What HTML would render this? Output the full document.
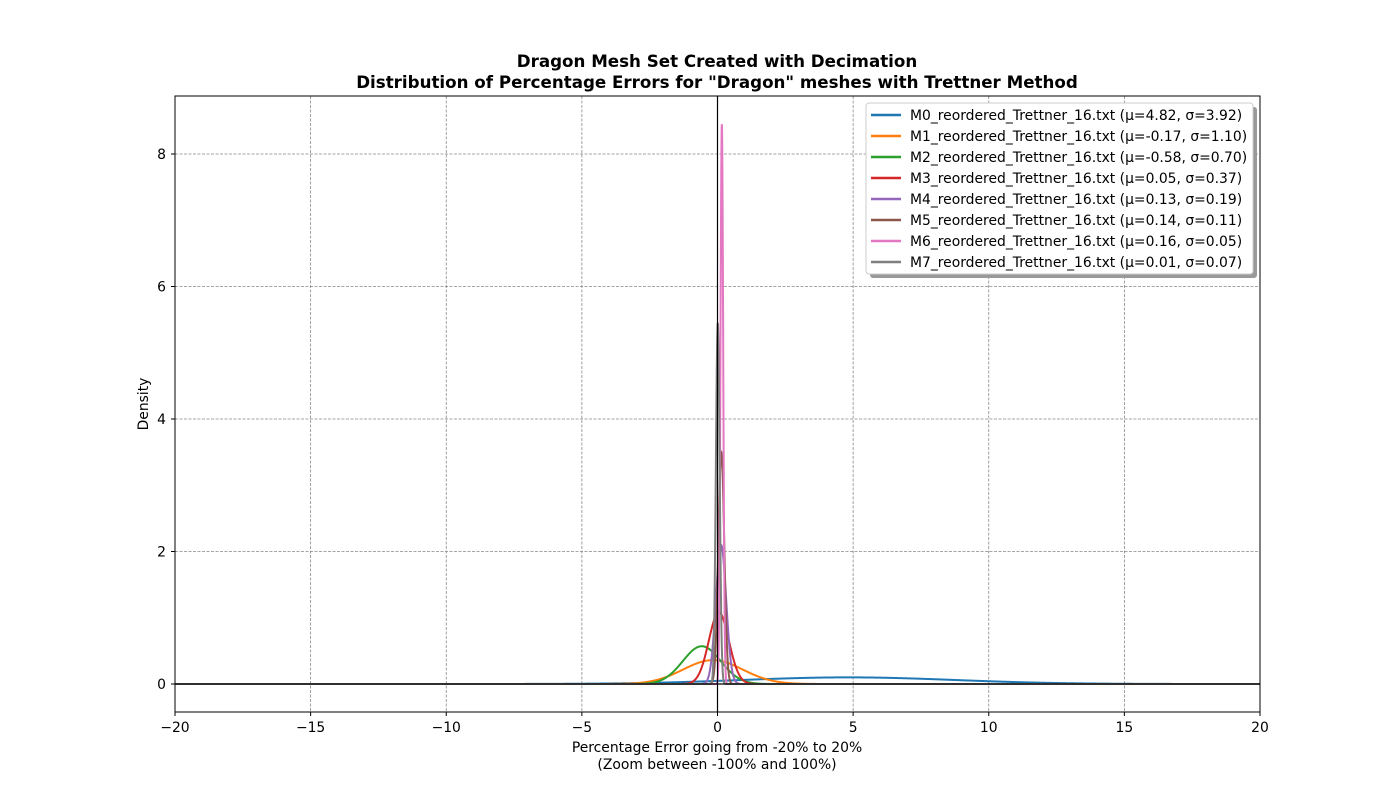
<!DOCTYPE html>
<html><head><meta charset="utf-8"><style>
body{margin:0;background:#fff;}
svg text{font-family:"DejaVu Sans","Liberation Sans",sans-serif;}
</style></head><body>
<svg id="chart" width="1400" height="800" xmlns="http://www.w3.org/2000/svg">
<rect width="1400" height="800" fill="#fff"/>
<text x="717" y="67" text-anchor="middle" font-size="16.7" font-weight="bold">Dragon Mesh Set Created with Decimation</text>
<text x="717" y="88" text-anchor="middle" font-size="16.7" font-weight="bold">Distribution of Percentage Errors for "Dragon" meshes with Trettner Method</text>
<g id="grid"></g>
<g id="ticks"></g>
<g id="series"></g>
<rect x="175" y="96" width="1085" height="616" fill="none" stroke="#000" stroke-width="1"/>
<text x="717" y="752" text-anchor="middle" font-size="13.9">Percentage Error going from -20% to 20%</text>
<text x="717" y="769" text-anchor="middle" font-size="13.9">(Zoom between -100% and 100%)</text>
<text x="148" y="404" text-anchor="middle" font-size="13.9" transform="rotate(-90 148 404)">Density</text>
<g id="legend"></g>
</svg>
<script>
const names=["M0_reordered_Trettner_16.txt","M1_reordered_Trettner_16.txt","M2_reordered_Trettner_16.txt","M3_reordered_Trettner_16.txt","M4_reordered_Trettner_16.txt","M5_reordered_Trettner_16.txt","M6_reordered_Trettner_16.txt","M7_reordered_Trettner_16.txt"];
const means=[4.82,-0.17,-0.58,0.05,0.13,0.14,0.16,0.01];
const sigmas=[3.92,1.10,0.70,0.37,0.19,0.11,0.05,0.07];
const peaks=[0.10,0.36,0.57,1.08,2.1,3.5,8.45,5.45];
const colors=["#1f77b4","#ff7f0e","#2ca02c","#d62728","#9467bd","#8c564b","#e377c2","#7f7f7f"];
const xTicks=[-20,-15,-10,-5,0,5,10,15,20];
const yTicks=[0,2,4,6,8];
const NS="http://www.w3.org/2000/svg";
const X=v=>175+(v+20)/40*1085;
const Y=v=>684-v*66.25;
function mk(t,a,p){const e=document.createElementNS(NS,t);for(const k in a)e.setAttribute(k,a[k]);p.appendChild(e);return e;}
const grid=document.getElementById('grid'),ticks=document.getElementById('ticks');
xTicks.forEach(t=>{
 const g=mk('line',{x1:X(t),x2:X(t),y1:96,y2:712,stroke:'#888','stroke-dasharray':'3,1.5','stroke-width':0.8},grid);
 
 mk('line',{x1:X(t),x2:X(t),y1:712,y2:716,stroke:'#000'},ticks);
 const l=mk('text',{x:X(t),y:732,'text-anchor':'middle','font-size':13.9},ticks);
 l.textContent=(t<0?'\u2212'+(-t):t);
 
});
yTicks.forEach(t=>{
 const g=mk('line',{x1:175,x2:1260,y1:Y(t),y2:Y(t),stroke:'#888','stroke-dasharray':'3,1.5','stroke-width':0.8},grid);
 
 mk('line',{x1:171,x2:175,y1:Y(t),y2:Y(t),stroke:'#000'},ticks);
 const l=mk('text',{x:166,y:Y(t)+5,'text-anchor':'end','font-size':13.9},ticks);
 l.textContent=t;
 
});
const ser=document.getElementById('series');
names.forEach((n,i)=>{
 let d='';
 for(let k=0;k<=8000;k++){const x=-20+40*k/8000;const z=(x-means[i])/sigmas[i];const y=peaks[i]*Math.exp(-0.5*z*z);d+=(k?'L':'M')+X(x).toFixed(2)+','+Y(y).toFixed(2);}
 const p=mk('path',{d:d,fill:'none',stroke:colors[i],'stroke-width':2},ser);
 
 
});
const vl=mk('line',{x1:X(0),x2:X(0),y1:96,y2:712,stroke:'#000','stroke-width':1.2},ser);

const hl=mk('line',{x1:175,x2:1260,y1:Y(0),y2:Y(0),stroke:'#000','stroke-width':1.2},ser);

const lg=document.getElementById('legend');
mk('rect',{x:870,y:107,width:387,height:171,rx:3,fill:'#999'},lg);
const box=mk('rect',{x:866,y:103,width:387,height:171,rx:3,fill:'#fff',stroke:'#ccc'},lg);

names.forEach((n,i)=>{
 const y=115+i*21;
 mk('line',{x1:871,x2:901,y1:y,y2:y,stroke:colors[i],'stroke-width':2.5},lg);
 const t=mk('text',{x:910,y:y+5,'font-size':13.9},lg);
 t.textContent=n+' (\u03bc='+means[i].toFixed(2)+', \u03c3='+sigmas[i].toFixed(2)+')';
 
});
</script>
</body></html>
